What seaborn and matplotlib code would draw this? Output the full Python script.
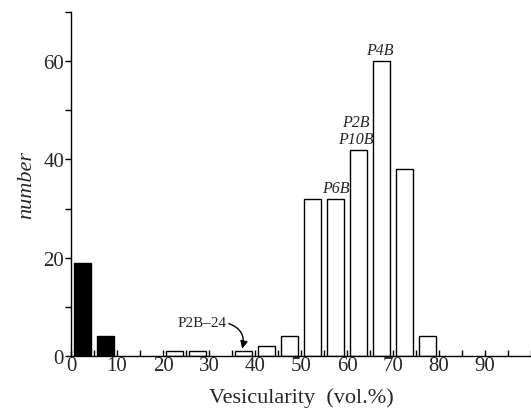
import matplotlib
matplotlib.use("Agg")
import matplotlib.pyplot as plt
import seaborn as sns
import pandas as pd
from matplotlib.ticker import MultipleLocator

# Data: vesicularity bins (centre of each 5 vol.% bin) and counts
bin_centers = [2.5, 7.5, 22.5, 27.5, 37.5, 42.5, 47.5, 52.5, 57.5, 62.5, 67.5, 72.5, 77.5]
counts      = [19,  4,   1,    1,    1,    2,    4,    32,   32,   42,   60,   38,   4]
groups      = ["dense", "dense", "pumice", "pumice", "pumice", "pumice", "pumice",
               "pumice", "pumice", "pumice", "pumice", "pumice", "pumice"]

label_texts = ["P4B", "P2B", "P10B", "P6B"]
label_x     = [67.2, 61.9, 61.9, 57.5]
label_y     = [62.2, 47.6, 44.2, 34.2]

df = pd.DataFrame({"vesicularity": bin_centers, "number": counts, "group": groups})

sns.set_theme(style="white")
plt.rcParams["font.family"] = ["Liberation Serif", "DejaVu Serif"]

fig = plt.figure(figsize=(5.31, 4.10), dpi=100)
ax = fig.add_axes([71/531, 53/410, 460/531, 344/410])

sns.barplot(data=df, x="vesicularity", y="number", hue="group",
            palette={"dense": "black", "pumice": "white"},
            native_scale=True, dodge=False, width=0.75,
            edgecolor="black", linewidth=1.0, legend=False, ax=ax)

ax.set_xlim(0, 100)
ax.set_ylim(0, 70)

for s in ["top", "right"]:
    ax.spines[s].set_visible(False)
for s in ["left", "bottom"]:
    ax.spines[s].set_color("black")
    ax.spines[s].set_linewidth(1.0)

ax.xaxis.set_major_locator(MultipleLocator(10))
ax.xaxis.set_minor_locator(MultipleLocator(5))
ax.yaxis.set_major_locator(MultipleLocator(20))
ax.yaxis.set_minor_locator(MultipleLocator(10))
ax.set_xticks(range(0, 100, 10))
ax.set_xticklabels([str(v) for v in range(0, 100, 10)])

ax.tick_params(axis="x", which="both", direction="in", length=4, width=1,
               color="black", labelsize=15, pad=0, bottom=True)
ax.tick_params(axis="y", which="both", direction="out", length=4, width=1,
               color="black", labelsize=15, pad=1, left=True)

ax.set_xlabel("Vesicularity  (vol.%)", fontsize=16, labelpad=9)
ax.set_ylabel("number", fontsize=16, style="italic", labelpad=5)

for t, x, y in zip(label_texts, label_x, label_y):
    ax.text(x, y, t, fontsize=11.5, style="italic", ha="center", va="center")

ax.text(28.5, 6.9, "P2B\u201324", fontsize=11, ha="center", va="center")
ax.annotate("", xy=(37.2, 1.5), xytext=(34.3, 6.6),
            arrowprops=dict(arrowstyle="-|>", color="black", lw=1,
                            connectionstyle="arc3,rad=-0.45",
                            shrinkA=0, shrinkB=0, mutation_scale=11))

fig.savefig("out.png", dpi=100)
